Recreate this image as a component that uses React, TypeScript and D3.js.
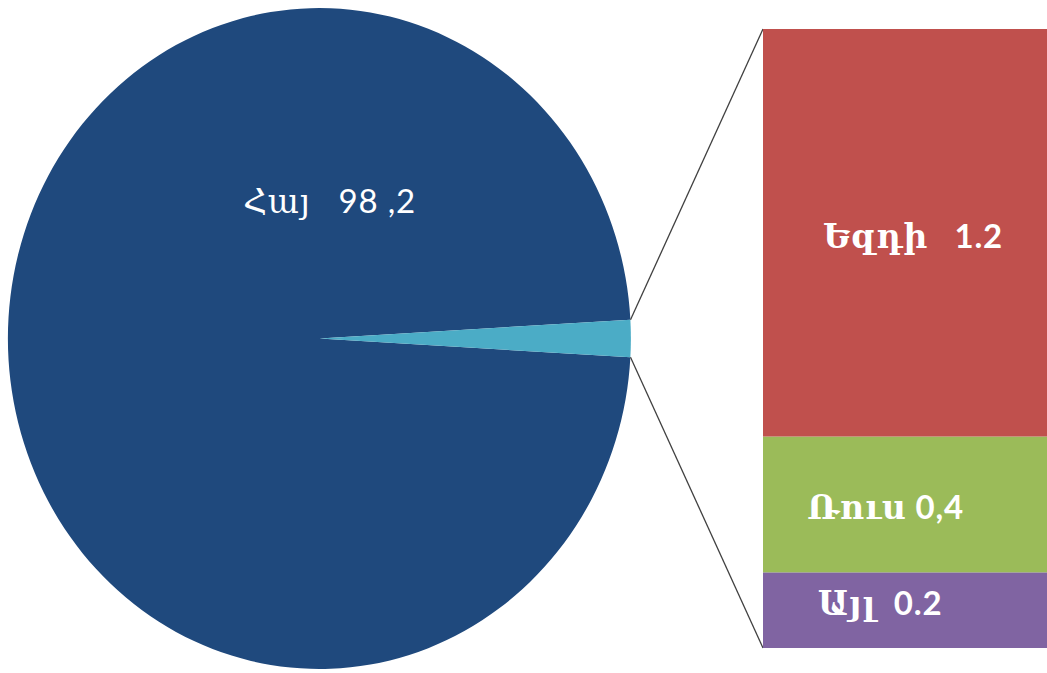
import React from 'react';
import * as d3 from 'd3';

// Pie: main group vs. the combined "other" slice that is split out into the bar
const pieNames = ['Հայ', 'Other'];
const pieValues = [98.2, 1.8];
const pieLabels = ['Հայ   98 ,2', ''];

// Bar of pie: breakdown of the small slice (bottom to top)
const barNames = ['Այլ', 'Ռուս', 'Եզդի'];
const barValues = [0.22, 0.395, 1.185];
const barLabels = ['Այլ  0.2', 'Ռուս 0,4', 'Եզդի   1.2'];

const PIE_COLORS = ['#1F497D', '#4BACC6'];
const BAR_COLORS = ['#8064A2', '#9BBB59', '#C0504D'];

const W = 1047;
const H = 673;
const FONT = "Lato, 'DejaVu Serif', sans-serif";

const App: React.FC = () => {
  // pie geometry (picture is slightly stretched vertically)
  const cx = 319.5;
  const cy = 338.5;
  const rx = 311.5;
  const ry = 330.5;

  const total = d3.sum(pieValues);
  const otherShare = pieValues[1] / total;
  // centre the small slice on the right (angle pi/2)
  const start = Math.PI / 2 - (1 - otherShare / 2) * 2 * Math.PI;

  const pie = d3.pie<number>().sort(null).startAngle(start).endAngle(start + 2 * Math.PI);
  const arcs = pie(pieValues);
  const arc = d3.arc<d3.PieArcDatum<number>>().innerRadius(0).outerRadius(1);

  // bar geometry
  const barX0 = 763;
  const barX1 = 1060;
  const barTop = 29;
  const barBottom = 648;
  const y = d3.scaleLinear().domain([0, d3.sum(barValues)]).range([barBottom, barTop]);
  const stacked = barValues.map((v, i) => {
    const base = d3.sum(barValues.slice(0, i));
    return { v, y0: y(base), y1: y(base + v), i };
  });

  // connector lines from the small slice edges to the bar corners
  const small = arcs[1];
  const pt = (a: number) => [cx + rx * Math.sin(a), cy - ry * Math.cos(a)];
  const [sx0, sy0] = pt(small.startAngle);
  const [sx1, sy1] = pt(small.endAngle);

  // label nudges (Excel placed them unevenly)
  const labelDx = [-3, 2.5, 30];
  const labelDy = [5, 15, 0];
  const barMid = (barX0 + 1003) / 2;

  return (
    <svg
      width={W}
      height={H}
      style={{ position: 'fixed', top: 0, left: 0, background: '#fff' }}
      fontFamily={FONT}
    >
      <g transform={`translate(${cx},${cy}) scale(${rx},${ry})`}>
        {arcs.map((a, i) => (
          <path key={pieNames[i]} d={arc(a) || ''} fill={PIE_COLORS[i]} />
        ))}
      </g>
      <text
        x={cx + 10}
        y={cy - 126}
        textAnchor="middle"
        fontSize={33}
        letterSpacing={0.8}
        fill="#fff"
        style={{ whiteSpace: 'pre' }}
      >
        {pieLabels[0]}
      </text>

      <line x1={sx0} y1={sy0} x2={barX0} y2={barTop} stroke="#404040" strokeWidth={1.3} />
      <line x1={sx1} y1={sy1} x2={barX0} y2={barBottom} stroke="#404040" strokeWidth={1.3} />

      {stacked.map(s => (
        <rect
          key={barNames[s.i]}
          x={barX0}
          y={s.y1}
          width={barX1 - barX0}
          height={s.y0 - s.y1}
          fill={BAR_COLORS[s.i]}
        />
      ))}
      {stacked.map(s => (
        <text
          key={'l' + barNames[s.i]}
          x={barMid + labelDx[s.i]}
          y={s.i === 2 ? s.y1 + 219 : (s.y0 + s.y1) / 2 + labelDy[s.i]}
          textAnchor="middle"
          fontSize={33}
          letterSpacing={0.8}
          fontWeight="bold"
          fill="#fff"
          style={{ whiteSpace: 'pre' }}
        >
          {barLabels[s.i]}
        </text>
      ))}
    </svg>
  );
};

export default App;
